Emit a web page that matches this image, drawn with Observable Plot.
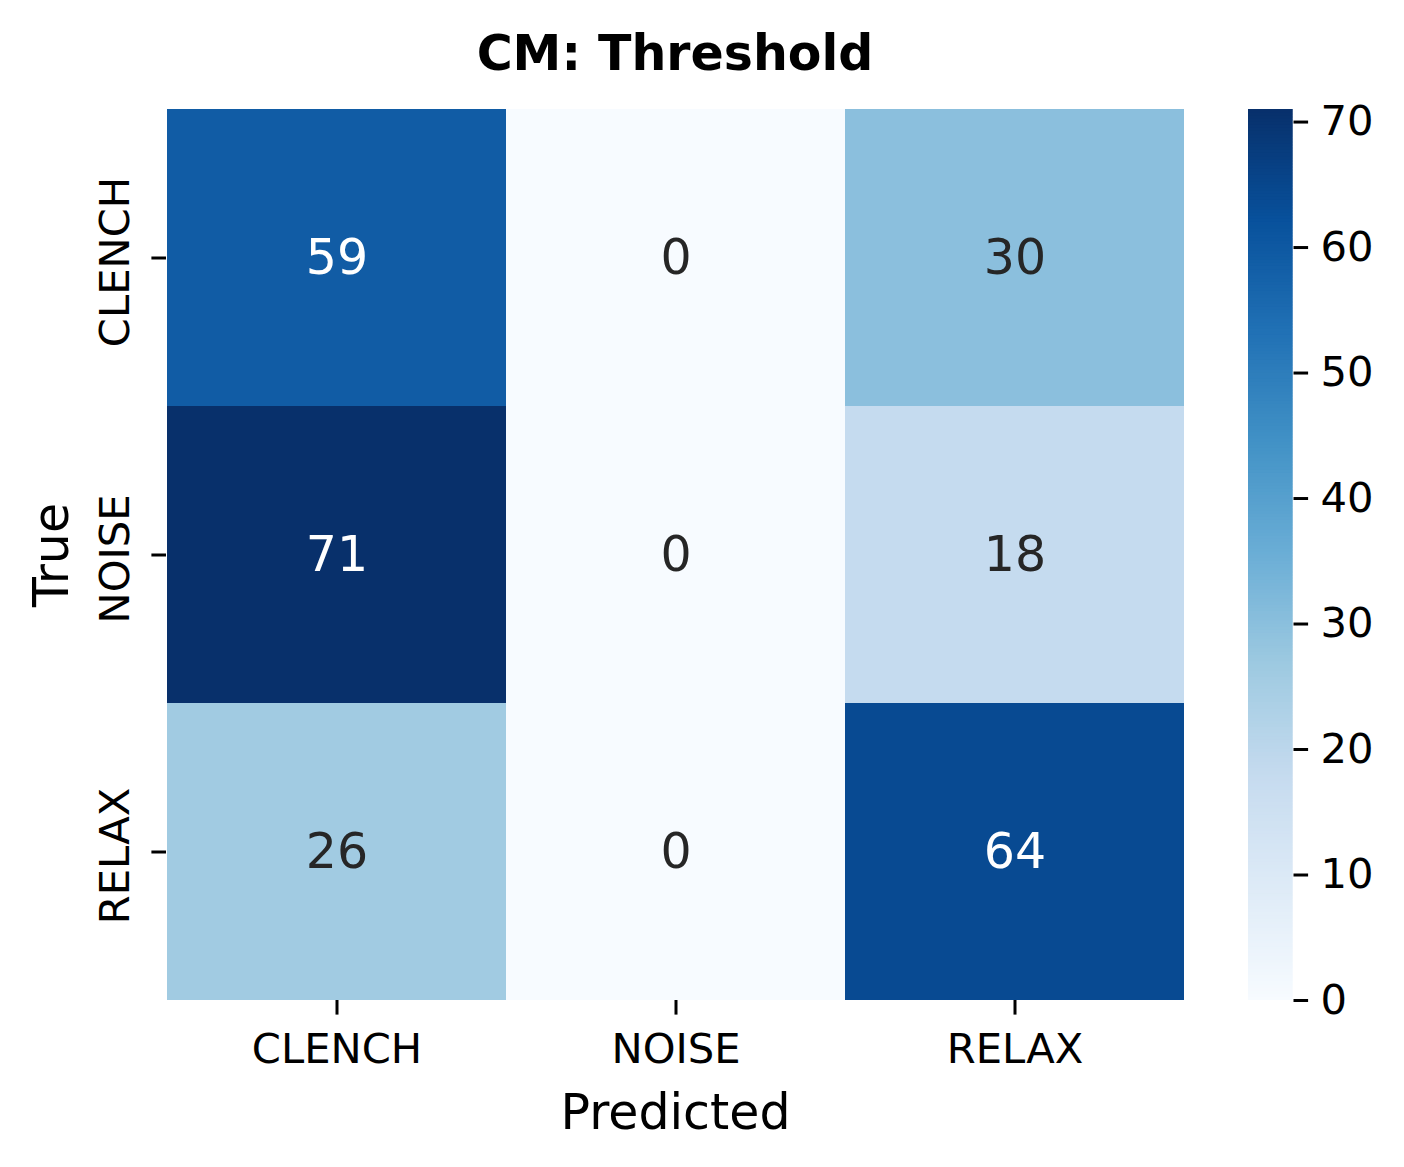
<!DOCTYPE html>
<html><head><meta charset="utf-8">
<script src="https://cdn.jsdelivr.net/npm/d3@7"></script>
<script src="https://cdn.jsdelivr.net/npm/@observablehq/plot@0.6"></script>
<style>
body{margin:0;background:#fff;}
#wrap{position:relative;width:1404px;height:1167px;font-family:"DejaVu Sans",sans-serif;}
#title{position:absolute;left:0;top:29px;width:1350px;text-align:center;font-weight:bold;font-size:49px;line-height:49px;color:#000;}
#main{position:absolute;left:0;top:0;}
#cbar{position:absolute;left:1248px;top:0;}
</style>
</head><body>
<div id="wrap">
  <div id="main"></div>
  <div id="cbar"></div>
  <div id="title">CM: Threshold</div>
</div>
<script>
const predictedLabels = ["CLENCH", "NOISE", "RELAX"];
const trueLabels = ["CLENCH", "NOISE", "RELAX"];
const counts = [
  [59, 0, 30],
  [71, 0, 18],
  [26, 0, 64]
];
const colorMax = 71;
const colorbarTicks = [0, 10, 20, 30, 40, 50, 60, 70];
const bluesStops = ["#f7fbff","#deebf7","#c6dbef","#9ecae1","#6baed6","#4292c6","#2171b5","#08519c","#08306b"];

const cells = [];
trueLabels.forEach((t, i) => predictedLabels.forEach((p, j) => cells.push({true: t, pred: p, value: counts[i][j]})));

const blues = d3.piecewise(d3.interpolateRgb, bluesStops);
const colorOpts = {type: "linear", domain: [0, colorMax], interpolate: blues};
const FS_TICK = 41.7, FS_LABEL = 49;

const main = Plot.plot({
  width: 1404, height: 1167,
  marginLeft: 166, marginRight: 220, marginTop: 109, marginBottom: 167,
  style: {fontFamily: "DejaVu Sans", color: "#000", background: "transparent"},
  x: {domain: predictedLabels, padding: 0, label: null},
  y: {domain: trueLabels, padding: 0, label: null},
  color: colorOpts,
  marks: [
    Plot.cell(cells, {x: "pred", y: "true", fill: "value", inset: 0}),
    Plot.text(cells, {x: "pred", y: "true", text: d => String(d.value), filter: d => d.value >= 40, fill: "white", fontSize: FS_LABEL}),
    Plot.text(cells, {x: "pred", y: "true", text: d => String(d.value), filter: d => d.value < 40, fill: "#262626", fontSize: FS_LABEL}),
    Plot.axisX({anchor: "bottom", tickSize: 14.6, tickPadding: 18, fontSize: FS_TICK, strokeWidth: 3, label: null}),
    Plot.axisY({anchor: "left", tickSize: 14.6, strokeWidth: 3, label: null, text: null}),
    Plot.axisY({anchor: "left", tickSize: 14.6, tickPadding: 23.4, tickRotate: -90, fontSize: FS_TICK, dy: 4, label: null, tickSize: 0, tickPadding: 38}),
    Plot.text(["Predicted"], {text: d => d, frameAnchor: "bottom", dy: 128, lineAnchor: "bottom", fontSize: FS_LABEL, fill: "#000"}),
    Plot.text(["True"], {text: d => d, frameAnchor: "left", textAnchor: "middle", rotate: -90, dx: -99, lineAnchor: "bottom", fontSize: FS_LABEL, fill: "#000"})
  ]
});
document.getElementById("main").append(main);

const step = 0.25;
const stops = d3.range(0, colorMax, step);
const cb = Plot.plot({
  width: 156, height: 1167,
  marginLeft: 0, marginRight: 111.5, marginTop: 109, marginBottom: 167,
  style: {fontFamily: "DejaVu Sans", color: "#000", background: "transparent", overflow: "visible"},
  y: {domain: [0, colorMax], label: null},
  color: colorOpts,
  marks: [
    Plot.rect(stops, {y1: d => d, y2: d => Math.min(colorMax, d + 2 * step), fill: d => d + step / 2}),
    Plot.axisY({anchor: "right", ticks: colorbarTicks, tickSize: 14.6, tickPadding: 13, fontSize: FS_TICK, strokeWidth: 3, label: null})
  ]
});
document.getElementById("cbar").append(cb);
</script>
</body></html>
